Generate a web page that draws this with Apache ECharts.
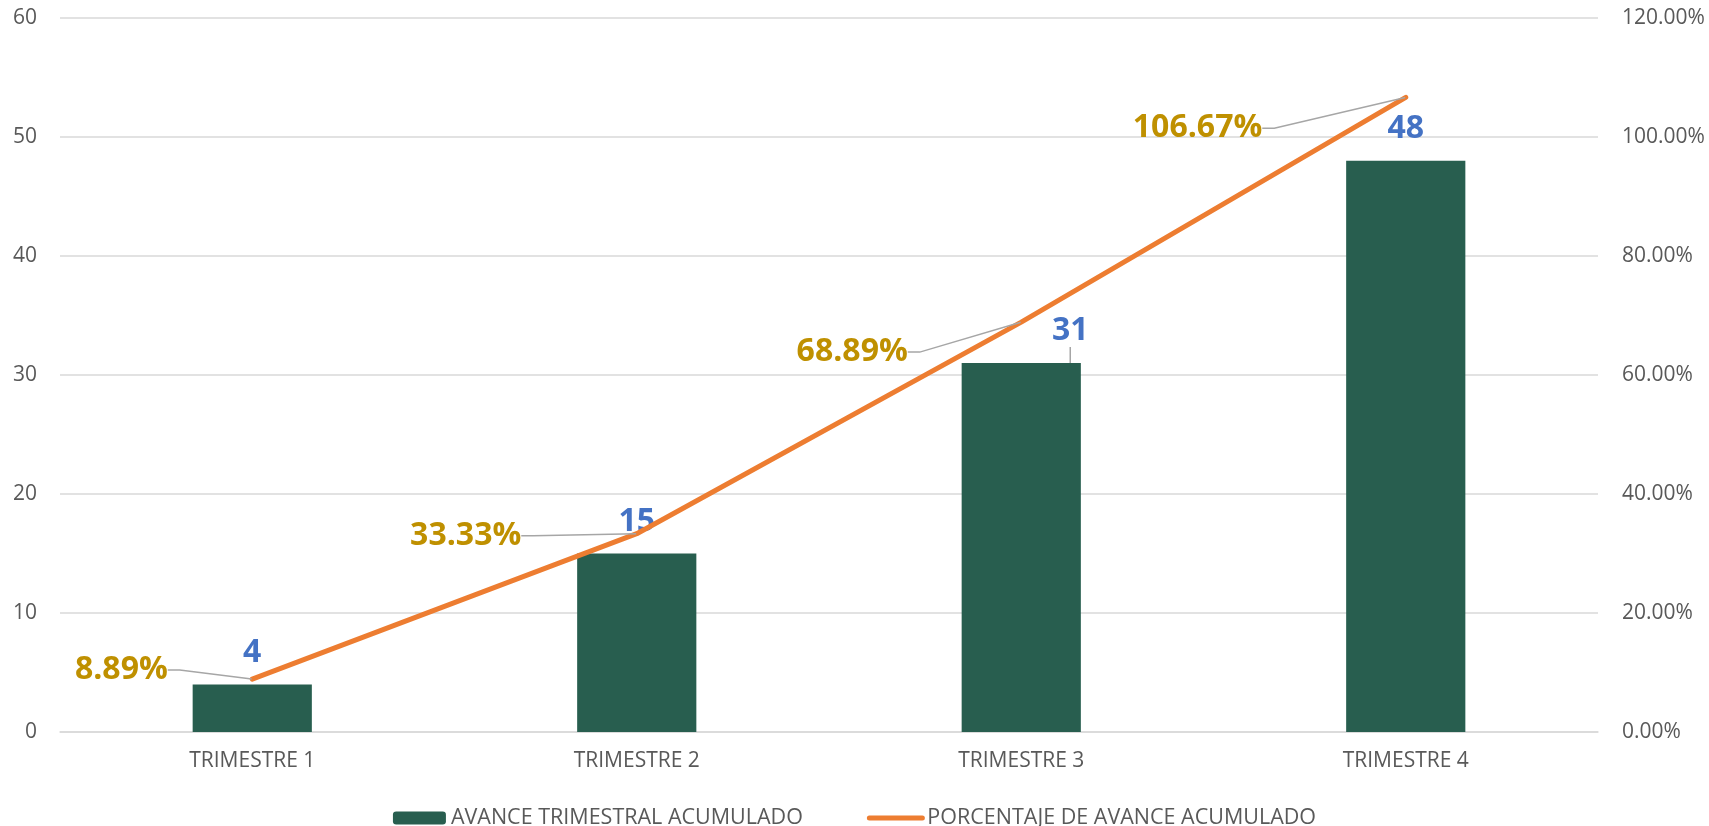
<!DOCTYPE html>
<html>
<head>
<meta charset="utf-8">
<script src="https://cdn.jsdelivr.net/npm/echarts@6/dist/echarts.min.js"></script>
<style>
  html, body { margin: 0; padding: 0; background: #fff; }
  #chart { width: 1709px; height: 826px; }
</style>
</head>
<body>
<div id="chart"></div>
<script>
// datos
const categorias = ["TRIMESTRE 1", "TRIMESTRE 2", "TRIMESTRE 3", "TRIMESTRE 4"];
const avanceAcumulado = [4, 15, 31, 48];
const porcentajeAvance = [0.0889, 0.3333, 0.6889, 1.0667];
const ticksIzq = [0, 10, 20, 30, 40, 50, 60];
const ticksDer = [0, 0.2, 0.4, 0.6, 0.8, 1.0, 1.2];

const nombreBarra = "AVANCE TRIMESTRAL ACUMULADO";
const nombreLinea = "PORCENTAJE DE AVANCE ACUMULADO";

// desplazamiento de etiquetas (px), como en el original
const despBarra = [[0, 0], [0, 0], [49, 0], [0, 0]];
const despPct = [[-84, -9], [-115, 2], [-113, 30], [-143, 31]];

const fuente = "'Open Sans', 'Noto Sans', sans-serif";
const gris = "#595959";
const guia = { color: "#A6A6A6", width: 1.5 };

const chart = echarts.init(document.getElementById("chart"));

// solo la etiqueta movida lleva línea guía
const datosBarra = avanceAcumulado.map((v, i) => ({
  value: v,
  labelLine: { show: despBarra[i][0] !== 0 || despBarra[i][1] !== 0 }
}));

const option = {
  animation: false,
  textStyle: { fontFamily: fuente },
  grid: { left: 60, right: 111, top: 18, bottom: 94, containLabel: false },
  legend: {
    top: 802,
    left: "center",
    itemWidth: 53,
    itemHeight: 13,
    itemGap: 64,
    textStyle: { fontSize: 21.5, color: gris, fontFamily: fuente },
    data: [
      { name: nombreBarra },
      { name: nombreLinea, itemStyle: { opacity: 0 }, lineStyle: { width: 5, cap: "round" } }
    ]
  },
  xAxis: {
    type: "category",
    data: categorias,
    axisTick: { show: false },
    axisLine: { lineStyle: { color: "#D9D9D9", width: 1.5 } },
    axisLabel: { color: gris, fontSize: 21, margin: 19 }
  },
  yAxis: [
    {
      type: "value",
      min: ticksIzq[0],
      max: ticksIzq[ticksIzq.length - 1],
      interval: 10,
      axisLine: { show: false },
      axisTick: { show: false },
      splitLine: { lineStyle: { color: "#D9D9D9", width: 1.5 } },
      axisLabel: { color: gris, fontSize: 21, margin: 23 }
    },
    {
      type: "value",
      min: ticksDer[0],
      max: ticksDer[ticksDer.length - 1],
      interval: 0.2,
      axisLine: { show: false },
      axisTick: { show: false },
      splitLine: { show: false },
      axisLabel: {
        color: gris,
        fontSize: 21,
        margin: 24,
        formatter: (v) => (v * 100).toFixed(2) + "%"
      }
    }
  ],
  series: [
    {
      name: nombreBarra,
      type: "bar",
      yAxisIndex: 0,
      data: datosBarra,
      barWidth: "31%",
      itemStyle: { color: "#285E4F" },
      label: {
        show: true,
        position: "top",
        distance: 16,
        color: "#4472C4",
        fontSize: 32,
        fontWeight: "bold",
        fontFamily: fuente
      },
      labelLine: { length2: 10, lineStyle: guia },
      labelLayout: (p) => {
        const d = despBarra[p.dataIndex];
        if (!d[0] && !d[1]) return {};
        return { dx: d[0], dy: d[1] };
      }
    },
    {
      name: nombreLinea,
      type: "line",
      yAxisIndex: 1,
      data: porcentajeAvance,
      symbol: "circle",
      symbolSize: 1,
      showSymbol: true,
      itemStyle: { color: "#ED7D31" },
      lineStyle: { color: "#ED7D31", width: 5, cap: "round" },
      z: 3,
      label: {
        show: true,
        position: "left",
        distance: 0,
        color: "#BF9000",
        fontSize: 32,
        fontWeight: "bold",
        fontFamily: fuente,
        formatter: (p) => (p.value * 100).toFixed(2) + "%"
      },
      labelLine: { show: true, length2: 12, lineStyle: guia },
      labelLayout: (p) => {
        const d = despPct[p.dataIndex];
        return { dx: d[0], dy: d[1] };
      }
    }
  ]
};

chart.setOption(option);
</script>
</body>
</html>
